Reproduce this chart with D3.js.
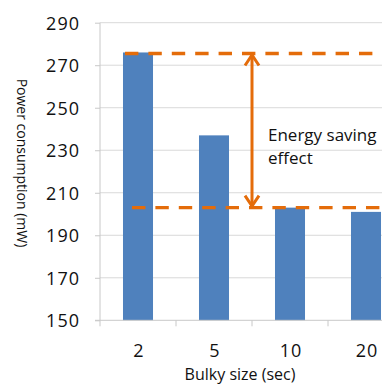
<!DOCTYPE html>
<html>
<head>
<meta charset="utf-8">
<script src="https://cdn.jsdelivr.net/npm/d3@7"></script>
<style>
  html, body { margin: 0; padding: 0; background: #fff; }
  svg { display: block; }
  text { font-family: "Open Sans", sans-serif; fill: #111; }
</style>
</head>
<body>
<svg id="chart" width="382" height="385"></svg>
<script>
// Power consumption per bulky-transfer size
const categories = ["2", "5", "10", "20"];
const powerValues = [276, 237, 203, 201];
const yTicks = [150, 170, 190, 210, 230, 250, 270, 290];
// Reference levels for the energy-saving annotation
const highLevel = 275.5;
const lowLevel = 203;

const svg = d3.select("#chart");
const W = 382, H = 385;
const plot = { left: 100, right: 404, top: 22.7, bottom: 320.3 };

const x = d3.scaleBand()
  .domain(categories)
  .range([plot.left, plot.right])
  .paddingInner(0.605)
  .paddingOuter(0.3025);

const y = d3.scaleLinear()
  .domain([150, 290])
  .range([plot.bottom, plot.top]);

const gridColor = "#d9d9d9";
const axisColor = "#c8c8c8";
const orange = "#e46c0a";

// Horizontal gridlines
svg.append("g")
  .selectAll("line")
  .data(yTicks.filter(d => d !== 150))
  .join("line")
  .attr("x1", plot.left).attr("x2", W)
  .attr("y1", d => y(d)).attr("y2", d => y(d))
  .attr("stroke", gridColor).attr("stroke-width", 1);

// Y axis
const yAxis = svg.append("g")
  .attr("transform", `translate(${plot.left},0)`)
  .call(d3.axisLeft(y).tickValues(yTicks).tickSize(5).tickPadding(15));
yAxis.select(".domain").remove();
yAxis.selectAll(".tick line").attr("stroke", axisColor);
yAxis.selectAll(".tick text")
  .attr("font-size", 18)
  .attr("letter-spacing", 1)
  .attr("dy", "0.36em")
  .style("font-family", "'Open Sans', sans-serif")
  .attr("fill", "#111");
svg.append("line")
  .attr("x1", plot.left).attr("x2", plot.left)
  .attr("y1", plot.top).attr("y2", plot.bottom + 6)
  .attr("stroke", axisColor);

// Bars
svg.append("g")
  .selectAll("rect")
  .data(categories.map((c, i) => ({ c, v: powerValues[i] })))
  .join("rect")
  .attr("x", d => x(d.c))
  .attr("width", x.bandwidth())
  .attr("y", d => y(d.v))
  .attr("height", d => y(150) - y(d.v))
  .attr("fill", "#4f81bd");

// X axis
svg.append("line")
  .attr("x1", plot.left - 5).attr("x2", W)
  .attr("y1", plot.bottom).attr("y2", plot.bottom)
  .attr("stroke", axisColor);
const step = x.step();
svg.append("g")
  .selectAll("line")
  .data(categories.map((c, i) => plot.left + step * (i + 1)))
  .join("line")
  .attr("x1", d => d).attr("x2", d => d)
  .attr("y1", plot.bottom).attr("y2", plot.bottom + 6)
  .attr("stroke", axisColor);

svg.append("g")
  .selectAll("text")
  .data(categories)
  .join("text")
  .attr("x", d => x(d) + x.bandwidth() / 2 + 1)
  .attr("y", 357)
  .attr("text-anchor", "middle")
  .attr("font-size", 18)
  .attr("letter-spacing", 1)
  .text(d => d);

// Axis titles
svg.append("text")
  .attr("transform", `translate(17,163) rotate(90)`)
  .attr("text-anchor", "middle")
  .attr("font-size", 14)
  .text("Power consumption (mW)");

svg.append("text")
  .attr("x", 240).attr("y", 380)
  .attr("text-anchor", "middle")
  .attr("font-size", 16)
  .text("Bulky size (sec)");

// Dashed reference lines
const barLeft = x(categories[0]);
svg.append("line")
  .attr("x1", barLeft + 2).attr("x2", W)
  .attr("y1", y(highLevel)).attr("y2", y(highLevel))
  .attr("stroke", orange).attr("stroke-width", 3.3)
  .attr("stroke-dasharray", "13.4 10");
svg.append("line")
  .attr("x1", barLeft + 9).attr("x2", W)
  .attr("y1", y(lowLevel)).attr("y2", y(lowLevel))
  .attr("stroke", orange).attr("stroke-width", 3.3)
  .attr("stroke-dasharray", "13.4 10");

// Double-headed arrow between the two levels
const ax = plot.left + step * 2;
const yTop = y(highLevel), yBot = y(lowLevel);
const arrow = svg.append("g")
  .attr("stroke", orange).attr("stroke-width", 3)
  .attr("fill", "none").attr("stroke-linecap", "butt");
arrow.append("line")
  .attr("x1", ax).attr("x2", ax)
  .attr("y1", yTop + 1).attr("y2", yBot - 1);
arrow.append("path")
  .attr("stroke-linejoin", "miter")
  .attr("d", `M${ax - 7},${yTop + 12} L${ax},${yTop + 1.5} L${ax + 7},${yTop + 12}`);
arrow.append("path")
  .attr("stroke-linejoin", "miter")
  .attr("d", `M${ax - 7},${yBot - 12} L${ax},${yBot - 1.5} L${ax + 7},${yBot - 12}`);

// Annotation label
const label = svg.append("text")
  .attr("x", 268).attr("y", 141)
  .attr("font-size", 17);
label.append("tspan").attr("x", 268).text("Energy saving");
label.append("tspan").attr("x", 268).attr("dy", 23).text("effect");
</script>
</body>
</html>
